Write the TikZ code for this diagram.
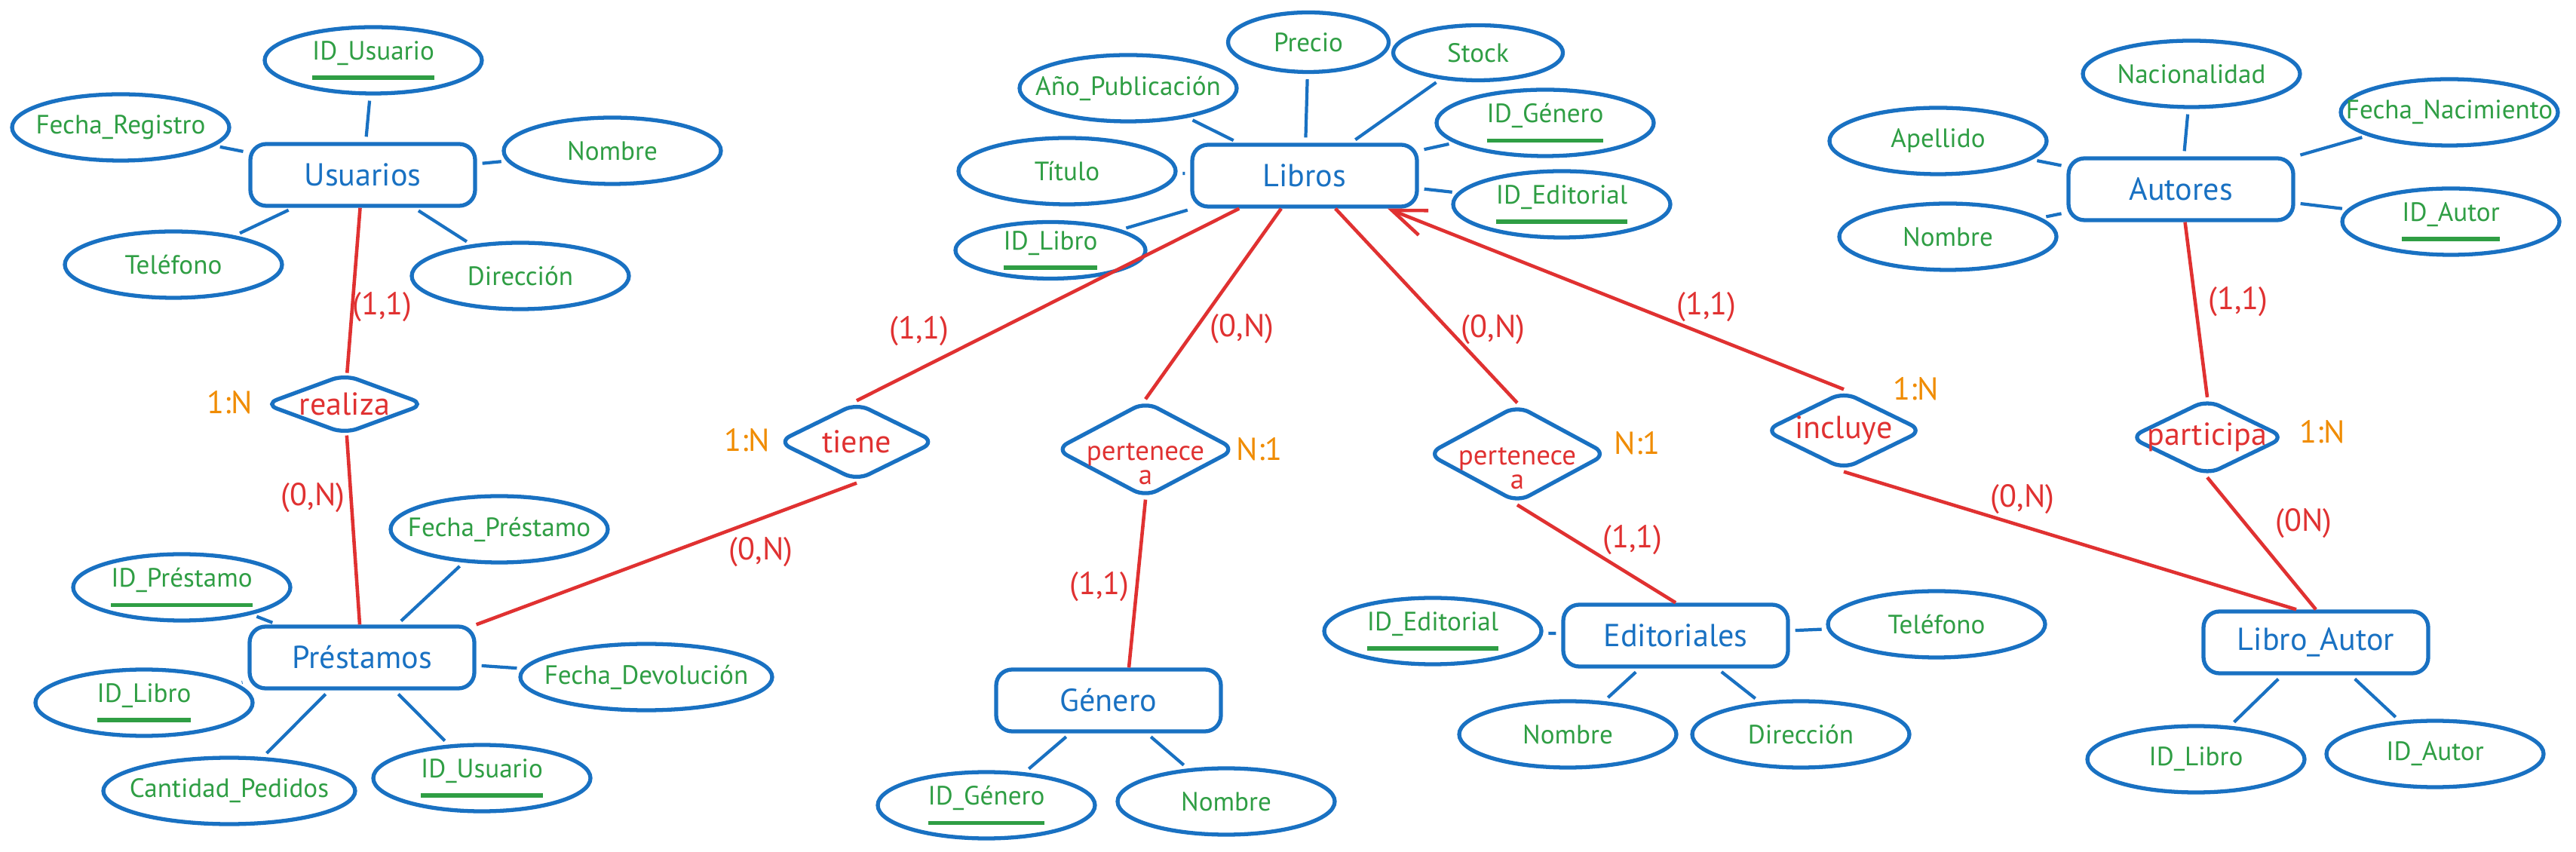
\documentclass[tikz,border=0pt]{standalone}
\usepackage{fontspec}
\setmainfont{PT Sans}
\usepackage{tikz}
\usetikzlibrary{positioning}
\usetikzlibrary{shapes.geometric}
\usetikzlibrary{arrows.meta}

\definecolor{erblue}{HTML}{1971C2}
\definecolor{ergreen}{HTML}{2F9E44}
\definecolor{erred}{HTML}{E03131}
\definecolor{erorange}{HTML}{F08C00}

% key attribute: text with a green bar below
\newcommand{\pkey}[1]{\setbox0=\hbox{#1}\vbox{\offinterlineskip\copy0\kern4pt\hbox{\color{ergreen}\vrule width \wd0 height 1.5pt}}}
% two lines, centred on the first one
\newcommand{\reltwo}[2]{\raisebox{0pt}[\height][0pt]{\begin{tabular}[t]{@{}c@{}}#1\\[-3pt]#2\end{tabular}}}

\begin{document}
\begin{tikzpicture}[
        entity/.style={draw=erblue, line width=1.5pt, rounded corners=6pt, minimum width=2.98cm, minimum height=0.82cm, text=erblue, font=\fontsize{12}{14}\selectfont},
        attr/.style={draw=erblue, line width=1.5pt, ellipse, minimum width=2.88cm, minimum height=0.88cm, inner xsep=-8mm, inner ysep=0pt, text=ergreen, font=\fontsize{10}{12}\selectfont},
        rel/.style={draw=erblue, line width=1.5pt, diamond, rounded corners=5pt, inner xsep=-8mm, inner ysep=0pt, text=erred, font=\fontsize{12}{13}\selectfont},
        card/.style={text=erred, font=\fontsize{12}{14}\selectfont},
        ratio/.style={text=erorange, font=\fontsize{12}{14}\selectfont},
        attrline/.style={draw=erblue, line width=1.2pt, shorten <=2pt, shorten >=2pt},
        relline/.style={draw=erred, line width=1.3pt}
    ]
        \useasboundingbox (0,0) rectangle (34.16,-11.30);
        \fill[white] (0,0) rectangle (34.16,-11.30);

        % entities
        \node(u) [entity] at (4.81, -2.32) {Usuarios};
        \node(p) [entity] at (4.80, -8.72) {Préstamos};
        \node(l) [entity] at (17.30, -2.33) {Libros};
        \node(g) [entity] at (14.70, -9.29) {Género};
        \node(e) [entity] at (22.22, -8.43) {Editoriales};
        \node(a) [entity] at (28.92, -2.51) {Autores};
        \node(la) [entity] at (30.71, -8.52) {Libro\_Autor};

        % relationships
        \node(rea) [rel, minimum width=2.14cm, minimum height=0.80cm] at (4.57, -5.36) {realiza};
        \node(tie) [rel, minimum width=2.10cm, minimum height=1.04cm] at (11.36, -5.86) {tiene};
        \node(pg) [rel, minimum width=2.40cm, minimum height=1.28cm, font=\fontsize{10.5}{12}\selectfont] at (15.19, -5.96) {\reltwo{pertenece}{a}};
        \node(pe) [rel, minimum width=2.39cm, minimum height=1.30cm, font=\fontsize{10.5}{12}\selectfont] at (20.12, -6.02) {\reltwo{pertenece}{a}};
        \node(inc) [rel, minimum width=2.11cm, minimum height=1.04cm] at (24.45, -5.71) {incluye};
        \node(par) [rel, minimum width=2.07cm, minimum height=1.01cm] at (29.27, -5.80) {participa};

        % attributes of Usuarios
        \node(u1) [attr] at (4.95, -0.80) {\pkey{ID\_Usuario}};
        \node(u2) [attr] at (1.60, -1.69) {Fecha\_Registro};
        \node(u3) [attr] at (8.12, -2.00) {Nombre};
        \node(u4) [attr] at (2.30, -3.51) {Teléfono};
        \node(u5) [attr] at (6.90, -3.66) {Dirección};

        % attributes of Préstamos
        \node(p1) [attr] at (6.62, -7.02) {Fecha\_Préstamo};
        \node(p2) [attr] at (2.41, -7.79) {\pkey{ID\_Préstamo}};
        \node(p3) [attr, minimum width=3.34cm] at (8.57, -8.98) {Fecha\_Devolución};
        \node(p4) [attr] at (1.91, -9.32) {\pkey{ID\_Libro}};
        \node(p5) [attr, minimum width=3.34cm] at (3.04, -10.49) {Cantidad\_Pedidos};
        \node(p6) [attr] at (6.39, -10.32) {\pkey{ID\_Usuario}};

        % attributes of Libros
        \node(l1) [attr, minimum width=2.13cm, minimum height=0.79cm] at (17.35, -0.56) {Precio};
        \node(l2) [attr, minimum width=2.25cm, minimum height=0.73cm] at (19.60, -0.70) {Stock};
        \node(l3) [attr] at (14.96, -1.17) {Año\_Publicación};
        \node(l4) [attr] at (20.49, -1.63) {\pkey{ID\_Género}};
        \node(l5) [attr] at (14.15, -2.27) {Título};
        \node(l6) [attr] at (20.71, -2.71) {\pkey{ID\_Editorial}};
        \node(l7) [attr, minimum width=2.52cm, minimum height=0.75cm] at (13.93, -3.32) {\pkey{ID\_Libro}};

        % attributes of Género
        \node(g1) [attr] at (13.08, -10.68) {\pkey{ID\_Género}};
        \node(g2) [attr] at (16.26, -10.63) {Nombre};

        % attributes of Editoriales
        \node(e1) [attr] at (19.00, -8.37) {\pkey{ID\_Editorial}};
        \node(e2) [attr] at (25.68, -8.28) {Teléfono};
        \node(e3) [attr] at (20.79, -9.74) {Nombre};
        \node(e4) [attr] at (23.88, -9.74) {Dirección};

        % attributes of Autores
        \node(a1) [attr] at (29.06, -0.98) {Nacionalidad};
        \node(a2) [attr] at (25.70, -1.87) {Apellido};
        \node(a3) [attr] at (32.48, -1.49) {Fecha\_Nacimiento};
        \node(a4) [attr] at (25.83, -3.14) {Nombre};
        \node(a5) [attr] at (32.50, -2.94) {\pkey{ID\_Autor}};

        % attributes of Libro_Autor
        \node(la1) [attr] at (29.12, -10.07) {ID\_Libro};
        \node(la2) [attr] at (32.29, -10.00) {ID\_Autor};

        % cardinalities
        \node(c1) [card] at (5.07, -4.07) {(1,1)};
        \node(c2) [card] at (4.15, -6.60) {(0,N)};
        \node(c3) [card] at (12.19, -4.39) {(1,1)};
        \node(c4) [card] at (10.09, -7.32) {(0,N)};
        \node(c5) [card] at (16.47, -4.36) {(0,N)};
        \node(c6) [card] at (19.80, -4.37) {(0,N)};
        \node(c7) [card] at (22.63, -4.07) {(1,1)};
        \node(c8) [card] at (14.58, -7.78) {(1,1)};
        \node(c9) [card] at (21.65, -7.16) {(1,1)};
        \node(c10) [card] at (29.68, -4.00) {(1,1)};
        \node(c11) [card] at (26.82, -6.62) {(0,N)};
        \node(c12) [card] at (30.55, -6.94) {(0N)};

        \node(n1) [ratio] at (3.05, -5.34) {1:N};
        \node(n2) [ratio] at (9.91, -5.84) {1:N};
        \node(n3) [ratio] at (16.70, -5.96) {N:1};
        \node(n4) [ratio] at (21.71, -5.88) {N:1};
        \node(n5) [ratio] at (25.41, -5.16) {1:N};
        \node(n6) [ratio] at (30.80, -5.73) {1:N};

        % relationship lines
        \draw[relline] (u) -- (rea);
        \draw[relline] (rea) -- (p);
        \draw[relline] (l) -- (tie.north);
        \draw[relline] (tie.south) -- (p.north east);
        \draw[relline] (l) -- (pg.north);
        \draw[relline] (pg.south) -- ([xshift=0.27cm]g.north);
        \draw[relline] (l) -- (pe.north);
        \draw[relline] (pe.south) -- (e.north);
        \draw[relline, -{Straight Barb[length=4.5mm, width=3.5mm]}] (inc.north) -- (l);
        \draw[relline] (inc.south) -- ([xshift=-0.26cm]la.north);
        \draw[relline] (a) -- (par.north);
        \draw[relline] (par.south) -- (la.north);

        % attribute lines
        \draw[attrline] (u) -- (u1);
        \draw[attrline] (u) -- (u2);
        \draw[attrline] (u) -- (u3);
        \draw[attrline] (u) -- (u4);
        \draw[attrline] (u) -- (u5);

        \draw[attrline] (p) -- (p1);
        \draw[attrline] (p) -- (p2);
        \draw[attrline] (p) -- (p3);
        \draw[attrline] (p) -- (p4);
        \draw[attrline] (p) -- (p5);
        \draw[attrline] (p) -- (p6);

        \draw[attrline] (l) -- (l1);
        \draw[attrline] (l) -- (l2);
        \draw[attrline] (l) -- (l3);
        \draw[attrline] (l) -- (l4);
        \draw[attrline] (l) -- (l5);
        \draw[attrline] (l) -- (l6);
        \draw[attrline] (l) -- (l7);

        \draw[attrline] (g) -- (g1);
        \draw[attrline] (g) -- (g2);

        \draw[attrline] (e) -- (e1);
        \draw[attrline] (e) -- (e2);
        \draw[attrline] (e) -- (e3);
        \draw[attrline] (e) -- (e4);

        \draw[attrline] (a) -- (a1);
        \draw[attrline] (a) -- (a2);
        \draw[attrline] (a) -- (a3);
        \draw[attrline] (a) -- (a4);
        \draw[attrline] (a) -- (a5);

        \draw[attrline] (la) -- (la1);
        \draw[attrline] (la) -- (la2);
    \end{tikzpicture}
\end{document}
